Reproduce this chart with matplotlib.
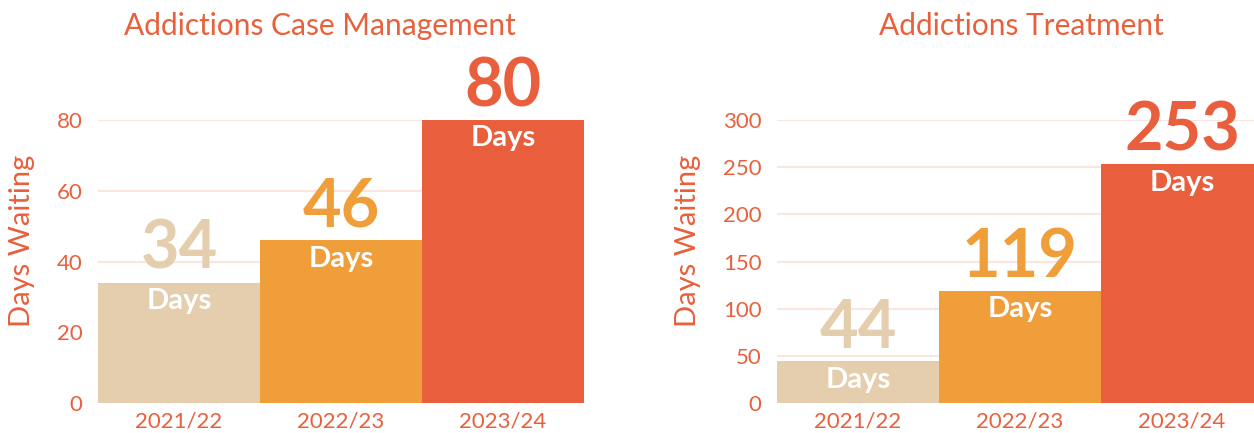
import matplotlib
matplotlib.use("Agg")
import matplotlib.pyplot as plt

# ---- data ----
categories = ["2021/22", "2022/23", "2023/24"]
case_mgmt_days = [34, 46, 80]
treatment_days = [44, 119, 253]
titles = ["Addictions Case Management", "Addictions Treatment"]
case_mgmt_ticks = [0, 20, 40, 60, 80]
treatment_ticks = [0, 50, 100, 150, 200, 250, 300]
unit_label = "Days"
y_label = "Days Waiting"

bar_colors = ["#E5CEAE", "#F09E3A", "#E95F3D"]
text_color = "#E8603C"
grid_color = "#FBE6DF"

plt.rcParams['font.family'] = ['Lato', 'DejaVu Sans']

W, H = 1254, 433
fig = plt.figure(figsize=(W / 100, H / 100), dpi=100)

def px_axes(x0, x1, ytop, ybot):
    return fig.add_axes([x0 / W, (H - ybot) / H, (x1 - x0) / W, (ybot - ytop) / H])

ax1 = px_axes(98, 584, 120, 403)
ax2 = px_axes(777, 1263, 120, 403)

panels = [
    (ax1, case_mgmt_days, case_mgmt_ticks, 80, titles[0], 320, 22),
    (ax2, treatment_days, treatment_ticks, 300, titles[1], 1021, 688),
]

for ax, vals, ticks, top, title, tx, ylx in panels:
    x = list(range(len(categories)))
    ax.bar(x, vals, width=1.0, color=bar_colors, zorder=2)
    ax.set_xlim(-0.5, 2.5)
    ax.set_ylim(0, top)
    ax.set_yticks(ticks)
    ax.set_xticks(x)
    ax.set_xticklabels(categories)
    ax.grid(axis='y', color=grid_color, linewidth=1.5, zorder=0)
    ax.set_axisbelow(True)
    for s in ax.spines.values():
        s.set_visible(False)
    ax.tick_params(axis='both', length=0, colors=text_color, labelsize=16)
    ax.tick_params(axis='y', pad=11)
    ax.tick_params(axis='x', pad=6)
    for xi, v, c in zip(x, vals, bar_colors):
        ax.annotate(str(v), (xi, v), xytext=(0, 10), textcoords='offset points',
                    ha='center', va='baseline', fontsize=48, fontweight='bold',
                    color=c, annotation_clip=False, zorder=3)
        ax.annotate(unit_label, (xi, v), xytext=(0, -19), textcoords='offset points',
                    ha='center', va='baseline', fontsize=21, fontweight='bold',
                    color='white', annotation_clip=False, zorder=3)
    fig.text(tx / W, 1 - 26 / H, title, ha='center', va='center',
             fontsize=21.5, color=text_color)
    fig.text(ylx / W, 1 - 241 / H, y_label, ha='center', va='center',
             rotation=90, fontsize=21, color=text_color)

fig.savefig("out.png", dpi=100)
